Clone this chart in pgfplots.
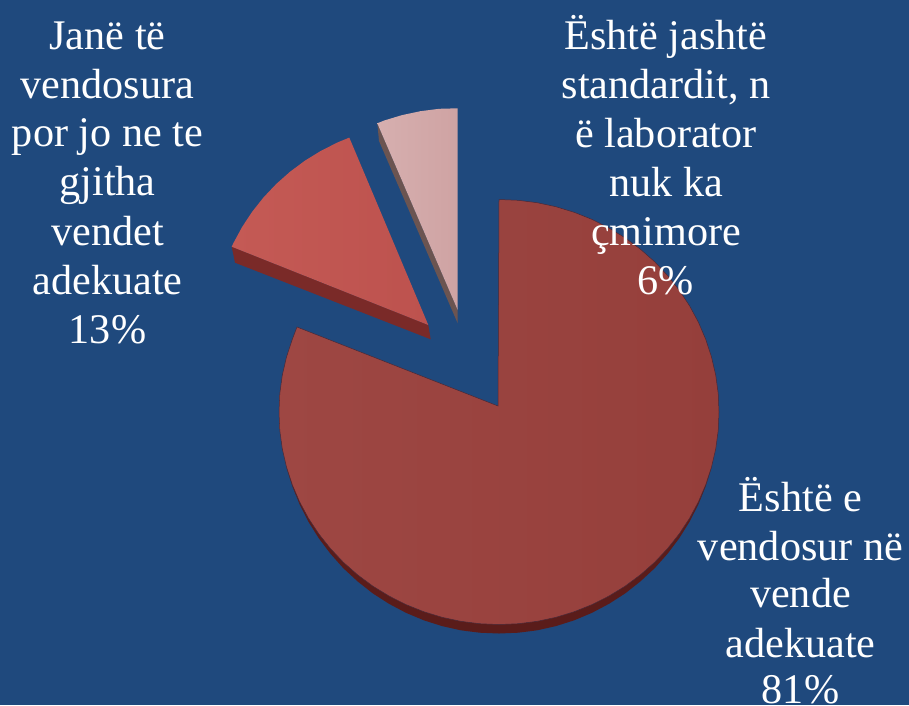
\documentclass[border=0pt]{standalone}
\usepackage{fontspec}
\setmainfont{Liberation Serif}
\usepackage{pgfplots}
\pgfplotsset{compat=1.18}
\definecolor{bg}{HTML}{1F497D}
\definecolor{mainL}{HTML}{9E4743}
\definecolor{mainR}{HTML}{953F3B}
\definecolor{mainS}{HTML}{5A1C1A}
\definecolor{midL}{HTML}{C45A55}
\definecolor{midR}{HTML}{BD524E}
\definecolor{midS}{HTML}{7A2A28}
\definecolor{lightL}{HTML}{D6AFAF}
\definecolor{lightR}{HTML}{CFA3A3}
\definecolor{lightS}{HTML}{6B5451}
\tikzset{lab/.style={text=white, anchor=base, font=\fontsize{42.2}{49}\selectfont, inner sep=0pt, yshift=-3.5pt}}
\begin{document}
\begin{tikzpicture}
\begin{axis}[
    scale only axis,
    width=909pt, height=705pt,
    xmin=0, xmax=909, ymin=0, ymax=705,
    y dir=reverse,
    axis lines=none,
    clip=false,
    axis background/.style={fill=bg},
]
% side walls first, the tops go over them
\addplot[fill=mainS, draw=none] coordinates {
(711.5,467.5) (705.7,486.2) (698.4,504.3) (689.5,521.8) (679.2,538.3)
(667.5,553.8) (654.6,568.3) (640.4,581.4) (625.2,593.4) (609,603.8) (592,612.8)
(574.2,620.3) (555.9,626.1) (537.2,630.3) (518.2,632.7) (499,633.5) (479.8,632.7)
(460.8,630.3) (442.1,626.1) (423.8,620.3) (406,612.8) (389,603.8) (372.8,593.4)
(357.6,581.4) (343.4,568.3) (330.5,553.8) (318.8,538.3) (308.5,521.8) (299.6,504.3)
(292.3,486.2) (286.5,467.5)
} -- cycle;
\addplot[fill=midS, draw=none] coordinates {
(231.7,246.7) (235,262.7) (430.7,339.3) (428.3,325)
} -- cycle;
\addplot[fill=lightS, draw=none] coordinates {
(377.3,123.3) (379,141) (457.7,323.3) (457.7,310)
} -- cycle;
% big slice, 81%
\addplot[left color=mainL, right color=mainR, draw=mainS!70!bg, line width=0.5pt] coordinates {
(498,406) (499,199.5) (518.2,200.3) (537.2,202.7) (555.9,206.7) (574.2,212.3) (592,219.4)
(609,228) (625.2,237.9) (640.4,249.2) (654.6,261.7) (667.5,275.4) (679.2,290.1)
(689.5,305.7) (698.4,322.2) (705.7,339.3) (711.5,357) (715.7,375.1) (718.2,393.5)
(719,412) (718.2,430.5) (715.7,448.9) (711.5,467) (705.7,484.7) (698.4,501.8)
(689.5,518.3) (679.2,533.9) (667.5,548.6) (654.6,562.3) (640.4,574.8) (625.2,586.1)
(609,596) (592,604.6) (574.2,611.7) (555.9,617.3) (537.2,621.3) (518.2,623.7)
(499,624.5) (479.8,623.7) (460.8,621.3) (442.1,617.3) (423.8,611.7) (406,604.6)
(389,596) (372.8,586.1) (357.6,574.8) (343.4,562.3) (330.5,548.6) (318.8,533.9)
(308.5,518.3) (299.6,501.8) (292.3,484.7) (286.5,467) (282.3,448.9) (279.8,430.5)
(279,412) (279.8,393.5) (282.3,375.1) (286.5,357) (292.3,339.3) (297,327)
} -- cycle;
% middle slice, 13%
\addplot[left color=midL, right color=midR, draw=none] coordinates {
(428.3,325) (349.3,137.6) (337.4,142.5) (320.8,150.9) (305,160.6) (290.1,171.7)
(276.3,183.9) (263.6,197.3) (252.2,211.7) (242.1,227) (233.4,243.1) (231.7,246.7)
} -- cycle;
% small slice, 6%
\addplot[left color=lightL, right color=lightR, draw=none] coordinates {
(457.7,310) (457.7,108.3) (439,108.8) (420.4,111.2) (402.1,115.1) (384.2,120.5) (377.3,123.3)
} -- cycle;
% labels, line by line from the baselines
\node[lab] at (axis cs:107.5,45.7) {Janë të};
\node[lab] at (axis cs:107.5,94.5) {vendosura};
\node[lab] at (axis cs:107.5,143.4) {por jo ne te};
\node[lab] at (axis cs:107.5,192.4) {gjitha};
\node[lab] at (axis cs:107.5,241.6) {vendet};
\node[lab] at (axis cs:107.5,290.8) {adekuate};
\node[lab] at (axis cs:107.5,340) {13\%};
\node[lab] at (axis cs:666,46) {Është jashtë};
\node[lab] at (axis cs:666,95) {standardit, n};
\node[lab] at (axis cs:666,144) {ë laborator};
\node[lab] at (axis cs:666,192.8) {nuk ka};
\node[lab] at (axis cs:666,241.7) {çmimore};
\node[lab] at (axis cs:666,291) {6\%};
\node[lab] at (axis cs:800.5,507.7) {Është e};
\node[lab] at (axis cs:800.5,556.7) {vendosur në};
\node[lab] at (axis cs:800.5,604) {vende};
\node[lab] at (axis cs:800.5,653.5) {adekuate};
\node[lab] at (axis cs:800.5,700) {81\%};
\end{axis}
\end{tikzpicture}
\end{document}
